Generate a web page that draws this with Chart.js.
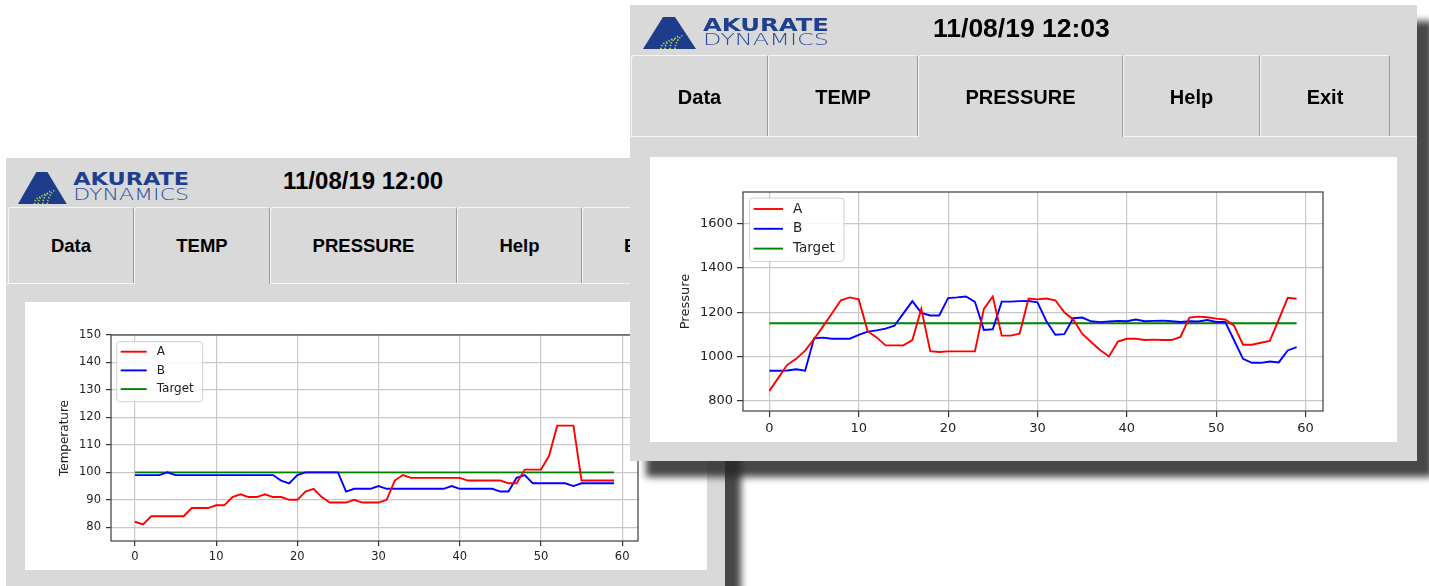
<!DOCTYPE html>
<html>
<head>
<meta charset="utf-8">
<script src="https://cdn.jsdelivr.net/npm/chart.js@4.4.1/dist/chart.umd.min.js"></script>
<style>
body{margin:0;width:1429px;height:586px;overflow:hidden;background:#fff;position:relative;font-family:"Liberation Sans",Arial,sans-serif}
.win{position:absolute;background:#d9d9d9;box-shadow:16px 16px 7px rgba(40,40,40,0.85)}
.logo{position:absolute}
.date{position:absolute;font-weight:bold;color:#000;white-space:nowrap;line-height:1}
.tab{position:absolute;box-sizing:border-box;border-top:1px solid #f6f6f6;border-left:1px solid #f6f6f6;border-right:1px solid #9a9a9a;border-radius:3px 3px 0 0;display:flex;align-items:center;justify-content:center;font-weight:bold;color:#000;line-height:1}
.tabline{position:absolute;height:1px;background:#f6f6f6}
.pane{position:absolute;background:#fff}
canvas{display:block}
</style>
</head>
<body>

<div class="win" id="backWin" style="left:6px;top:158px;width:719px;height:470px;z-index:1">
  <div class="date" style="left:277px;top:11px;font-size:24px">11/08/19 12:00</div>
  <div class="pane" style="left:19px;top:144px;width:682px;height:268px">
    <canvas id="tempChart" width="682" height="268"></canvas>
  </div>
</div>

<div class="win" id="frontWin" style="left:630px;top:5px;width:787px;height:456px;z-index:2">
  <div class="date" style="left:303px;top:10px;font-size:26.5px">11/08/19 12:03</div>
  <div class="pane" style="left:20px;top:152px;width:747px;height:285px">
    <canvas id="pressChart" width="747" height="285"></canvas>
  </div>
</div>

<script>
// sample index on the x axis
const samples = [0,1,2,3,4,5,6,7,8,9,10,11,12,13,14,15,16,17,18,19,
  20,21,22,23,24,25,26,27,28,29,30,31,32,33,34,35,36,37,38,39,
  40,41,42,43,44,45,46,47,48,49,50,51,52,53,54,55,56,57,58,59];
const xTicks = [0,10,20,30,40,50,60];
const seriesNames = ['A','B','Target'];

// temperature window (11/08/19 12:00)
const tempTicks = [80,90,100,110,120,130,140,150];
const tempA = [82,81,84,84,84,84,84,87,87,87, 88,88,91,92,91,91,92,91,91,90,
  90,93,94,91,89,89,89,90,89,89, 89,90,97,99,98,98,98,98,98,98,
  98,97,97,97,97,97,96,96,101,101, 101,106,117,117,117,97,97,97,97,97];
const tempB = [99,99,99,99,100,99,99,99,99,99, 99,99,99,99,99,99,99,99,97,96,
  99,100,100,100,100,100,93,94,94,94, 95,94,94,94,94,94,94,94,94,95,
  94,94,94,94,94,93,93,98,99,96, 96,96,96,96,95,96,96,96,96,96];
const tempTarget = 100;

// pressure window (11/08/19 12:03)
const pressTicks = [800,1000,1200,1400,1600];
const pressA = [844,903,962,989,1026,1079,1136,1194,1254,1267,
  1258,1114,1086,1050,1050,1050,1074,1215,1024,1020,
  1023,1023,1023,1023,1215,1271,1094,1094,1103,1262,
  1258,1262,1254,1200,1167,1103,1065,1029,1000,1067,
  1080,1080,1074,1076,1074,1074,1088,1176,1180,1177,
  1171,1167,1139,1053,1053,1062,1070,1167,1265,1261];
const pressB = [935,935,936,942,935,1082,1085,1080,1080,1080,
  1097,1112,1118,1126,1139,1195,1250,1197,1185,1185,
  1264,1267,1271,1247,1120,1123,1248,1248,1250,1251,
  1245,1159,1098,1101,1173,1176,1159,1155,1158,1161,
  1159,1167,1159,1161,1162,1159,1156,1159,1158,1165,
  1156,1156,1073,989,971,971,977,973,1027,1042];
const pressTarget = 1150;

const tabNames = ['Data','TEMP','PRESSURE','Help','Exit'];
const lineColors = ['#ff0000','#0000ff','#008000'];

// ---- window chrome ----
function makeLogo(win, left, top, w, h) {
  const svg = `<svg class="logo" style="left:${left}px;top:${top}px" width="${w}" height="${h}" viewBox="0 0 187 37" preserveAspectRatio="none">
    <defs><clipPath id="tri${win.id}"><polygon points="20,4 32,4 53,36 0,36"/></clipPath></defs>
    <polygon points="20,4 32,4 53,36 0,36" fill="#1d3c8c"/>
    <g clip-path="url(#tri${win.id})" fill="none" stroke="#b8d83a" stroke-width="1.7" stroke-dasharray="1.3 1.6">
      <path d="M22,36 A10,10 0 0 1 32,26"/>
      <path d="M27,36 A14,14 0 0 1 36,23"/>
      <path d="M32,36 A18,18 0 0 1 40,22"/>
      <path d="M18,36 A7,7 0 0 1 25,29"/>
    </g>
    <text x="60" y="17.5" textLength="126" lengthAdjust="spacingAndGlyphs" font-family="DejaVu Sans" font-weight="bold" font-size="18.5" fill="#1f3f8e">AKURATE</text>
    <text x="60" y="32" textLength="126" lengthAdjust="spacingAndGlyphs" font-family="DejaVu Sans" font-weight="200" font-size="16.5" fill="#2d4c9e">DYNAMICS</text>
  </svg>`;
  win.insertAdjacentHTML('afterbegin', svg);
}

function makeTabs(win, top, height, lefts, widths, selected, fontSize) {
  tabNames.forEach(function(name, i) {
    const t = document.createElement('div');
    t.className = 'tab';
    t.style.cssText = `left:${lefts[i]}px;top:${top}px;width:${widths[i]}px;height:${height}px;font-size:${fontSize}px`;
    t.textContent = name;
    win.appendChild(t);
  });
  const s = selected;
  const segs = [[0, lefts[s]], [lefts[s] + widths[s], win.offsetWidth]];
  segs.forEach(function(sg) {
    const l = document.createElement('div');
    l.className = 'tabline';
    l.style.cssText = `left:${sg[0]}px;top:${top + height - 1}px;width:${sg[1] - sg[0]}px`;
    win.appendChild(l);
  });
}

const backWin = document.getElementById('backWin');
const frontWin = document.getElementById('frontWin');
makeLogo(backWin, 12, 10, 172, 37);
makeLogo(frontWin, 13, 8, 187, 37);
makeTabs(backWin, 49, 77, [2,128,264,451,576], [126,136,187,125,118], 1, 18.5);
makeTabs(frontWin, 50, 82, [1,138,288,493,630], [137,150,205,137,130], 2, 20);

// ---- matplotlib-like frame + legend inside the axes ----
const boxLegend = {
  id: 'boxLegend',
  afterDatasetsDraw(chart, args, o) {
    const ctx = chart.ctx, a = chart.chartArea;
    ctx.save();
    ctx.strokeStyle = '#3c3c3c';
    ctx.lineWidth = 1.2;
    ctx.strokeRect(a.left, a.top, a.right - a.left, a.bottom - a.top);

    const x = a.left + o.x, y = a.top + o.y;
    ctx.beginPath();
    ctx.roundRect(x, y, o.w, o.h, 3);
    ctx.fillStyle = 'rgba(255,255,255,0.85)';
    ctx.fill();
    ctx.strokeStyle = '#d0d0d0';
    ctx.lineWidth = 1;
    ctx.stroke();

    ctx.font = o.font;
    ctx.textBaseline = 'middle';
    chart.data.datasets.forEach(function(ds, i) {
      const ry = a.top + o.row0 + i * o.rowGap;
      ctx.beginPath();
      ctx.moveTo(a.left + o.lineX0, ry);
      ctx.lineTo(a.left + o.lineX1, ry);
      ctx.strokeStyle = ds.borderColor;
      ctx.lineWidth = ds.borderWidth;
      ctx.stroke();
      ctx.fillStyle = '#222';
      ctx.fillText(ds.label, a.left + o.textX, ry);
    });
    ctx.restore();
  }
};

function lineChart(id, seriesA, seriesB, target, yMin, yMax, yTicks, yTitle, c) {
  const values = [seriesA, seriesB, samples.map(function() { return target; })];
  const datasets = values.map(function(v, k) {
    return {
      label: seriesNames[k],
      data: samples.map(function(s, i) { return {x: s, y: v[i]}; }),
      borderColor: lineColors[k],
      borderWidth: 1.9,
      pointRadius: 0,
      tension: 0
    };
  });
  const tickFont = {family: 'DejaVu Sans', size: c.fs};
  const grid = {color: '#c8c8c8', lineWidth: 1.2, tickColor: '#333', tickWidth: 1.2, tickLength: c.tl};
  return new Chart(document.getElementById(id), {
    type: 'line',
    data: {datasets: datasets},
    plugins: [boxLegend],
    options: {
      responsive: false,
      animation: false,
      devicePixelRatio: 1,
      layout: {padding: {left: 0, top: c.pt, right: c.pr, bottom: 0}},
      plugins: {
        legend: {display: false},
        tooltip: {enabled: false},
        boxLegend: c.legend
      },
      scales: {
        x: {
          type: 'linear', min: -2.95, max: 61.95,
          afterBuildTicks: function(s) { s.ticks = xTicks.map(function(v) { return {value: v}; }); },
          afterFit: function(s) { s.height = c.xh; },
          grid: grid,
          border: {display: false},
          ticks: {autoSkip: false, maxRotation: 0, color: '#222', font: tickFont, padding: c.tpx,
            callback: function(v) { return String(v); }}
        },
        y: {
          type: 'linear', min: yMin, max: yMax,
          afterBuildTicks: function(s) { s.ticks = yTicks.map(function(v) { return {value: v}; }); },
          afterFit: function(s) { s.width = c.yw; },
          grid: grid,
          border: {display: false},
          ticks: {autoSkip: false, color: '#222', font: tickFont, padding: c.tpy,
            callback: function(v) { return String(v); }},
          title: {display: true, text: yTitle, color: '#222',
            font: {family: 'DejaVu Sans', size: c.ts}, padding: {top: c.titlePad, bottom: 0}}
        }
      }
    }
  });
}

lineChart('tempChart', tempA, tempB, tempTarget, 75, 150, tempTicks, 'Temperature', {
  fs: 11.5, ts: 12, tl: 5, tpx: 4, tpy: 5, pt: 33, pr: 69, xh: 29, yw: 86, titlePad: 32.8,
  legend: {x: 5.7, y: 6.7, w: 86, h: 60, row0: 16.7, rowGap: 18.7, lineX0: 9.7, lineX1: 35.7, textX: 45.7,
    font: '12px "DejaVu Sans"'}
});

lineChart('pressChart', pressA, pressB, pressTarget, 753, 1744, pressTicks, 'Pressure', {
  fs: 13, ts: 13, tl: 6, tpx: 4, tpy: 4, pt: 35, pr: 74, xh: 31, yw: 93, titlePad: 28.2,
  legend: {x: 6.7, y: 6, w: 94.3, h: 63.4, row0: 17, rowGap: 19.8, lineX0: 10.7, lineX1: 40, textX: 50,
    font: '13.5px "DejaVu Sans"'}
});
</script>
</body>
</html>
